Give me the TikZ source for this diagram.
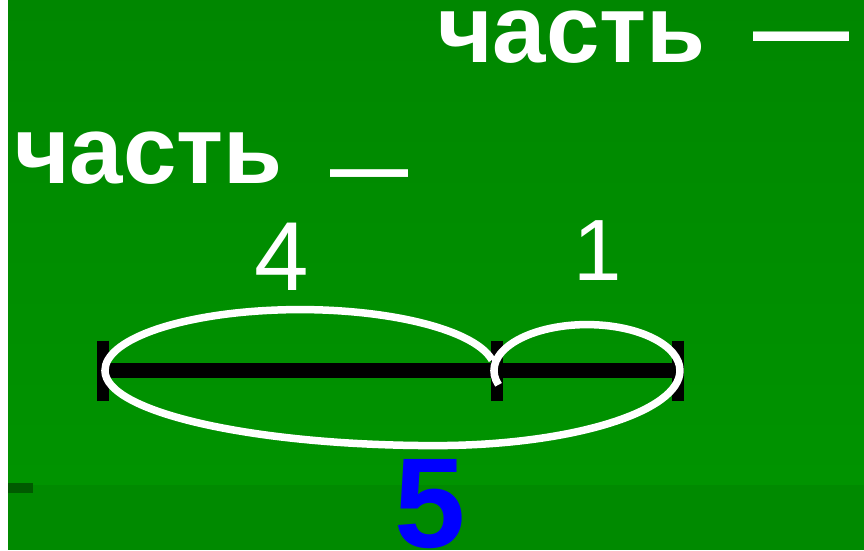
\documentclass[tikz,border=0pt]{standalone}
\usepackage{fontspec}
\setmainfont{Liberation Sans}
\usepackage{tikz}

\definecolor{topgreen}{HTML}{008700}
\definecolor{midgreen}{HTML}{009300}
\definecolor{bandgreen}{HTML}{008A00}
\definecolor{darkgreen}{HTML}{005A00}
\definecolor{numblue}{HTML}{0000FF}

\begin{document}
\begin{tikzpicture}[x=1pt, y=1pt,
    word/.style={text=white, font=\bfseries\fontsize{96}{100}\selectfont, inner sep=0pt, anchor=base west},
    num/.style={text=white, inner sep=0pt, anchor=base},
    tick/.style={line width=12pt},
    loop/.style={draw=white, line width=7.5pt}]
    \useasboundingbox (0,0) rectangle (864,550);

    % background
    \fill[white] (0,0) rectangle (8,550);
    \shade[top color=topgreen, bottom color=midgreen] (8,65) rectangle (864,550);
    \fill[bandgreen] (8,0) rectangle (864,65);
    \fill[darkgreen] (8,57) rectangle (33,67);

    % texts
    \node[word] (top) at (437,487) {часть\hspace{0.5em}—};
    \node[word] (left) at (14,367) {часть\hspace{0.5em}{\fontsize{78}{80}\selectfont\raisebox{-12pt}{—}}};
    \node[num, font=\fontsize{98}{100}\selectfont] (four) at (282,260) {4};
    \node[num, font=\fontsize{87}{90}\selectfont] (one) at (598,270) {1};
    \node[num, text=numblue, font=\bfseries\fontsize{128}{130}\selectfont] (five) at (430,3) {5};

    % segment
    \coordinate (A) at (103,179.5);
    \coordinate (M) at (497,179.5);
    \coordinate (B) at (678,179.5);
    \draw[line width=15pt] (A) -- (B);
    \foreach \p in {A,M,B}
        \draw[tick] ([yshift=30pt]\p) -- ([yshift=-30pt]\p);

    % loops
    \coordinate (s) at (492,190);
    \draw[loop] (s) arc[start angle=10, end angle=180, x radius=195, y radius=61]
        arc[start angle=180, end angle=270, x radius=330, y radius=75]
        arc[start angle=270, end angle=360, x radius=245, y radius=75]
        arc[start angle=0, end angle=198, x radius=93, y radius=46];
\end{tikzpicture}
\end{document}
